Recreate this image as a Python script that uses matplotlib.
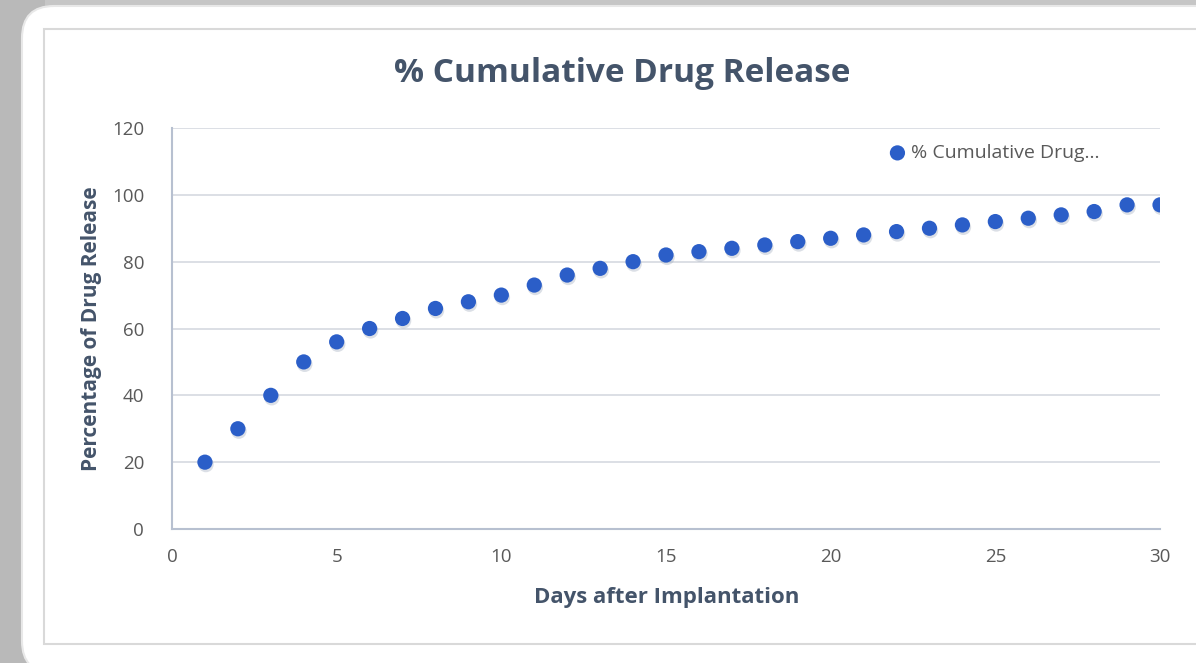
import matplotlib
matplotlib.use("Agg")
import matplotlib.pyplot as plt
from matplotlib.patches import FancyBboxPatch, Rectangle
import numpy as np

days = list(range(1, 31))
release = [20, 30, 40, 50, 56, 60, 63, 66, 68, 70, 73, 76, 78, 80, 82, 83, 84, 85,
           86, 87, 88, 89, 90, 91, 92, 93, 94, 95, 97, 97]
x_ticks = [0, 5, 10, 15, 20, 25, 30]
y_ticks = [0, 20, 40, 60, 80, 100, 120]
title = "% Cumulative Drug Release"
xlabel = "Days after Implantation"
ylabel = "Percentage of Drug Release"
legend_label = "% Cumulative Drug..."

W, H = 1196, 663
fig = plt.figure(figsize=(W / 100, H / 100), dpi=100)
fig.patch.set_facecolor("#c2c2c2")

bg = fig.add_axes([0, 0, 1, 1])
bg.set_xlim(0, W); bg.set_ylim(H, 0); bg.axis("off")
bg.add_patch(Rectangle((0, 0), W, H, facecolor="#c6c6c6", edgecolor="none"))
bg.add_patch(Rectangle((0, 0), 45, H, facecolor="#b9b9b9", edgecolor="none"))
bg.add_patch(FancyBboxPatch((22, 6), W + 60, H + 4,
                            boxstyle="round,pad=0,rounding_size=32",
                            facecolor="white", edgecolor="#e8e8e8", lw=1.5))
bg.add_patch(Rectangle((44, 29), W, 615, facecolor="white", edgecolor="#d9d9d9", lw=1.5))

font = "Open Sans"
ax = fig.add_axes([172 / W, 1 - 529 / H, (1160 - 172) / W, (529 - 128) / H])
ax.set_xlim(0, 30)
ax.set_ylim(0, 120)
ax.set_facecolor("none")

ax.scatter(np.array(days) + 0.03, np.array(release) - 0.7, s=125, color="#9aa6b8",
           alpha=0.35, edgecolors="none", zorder=2)
ax.scatter(days, release, s=120, color="#2b5ec8", edgecolors="none", zorder=3,
           label=legend_label)

ax.set_xticks(x_ticks)
ax.set_yticks(y_ticks)
ax.grid(axis="y", color="#d9dce3", lw=1.3)
ax.set_axisbelow(True)
for s in ["top", "right"]:
    ax.spines[s].set_visible(False)
for s in ["left", "bottom"]:
    ax.spines[s].set_color("#b7c0d0")
    ax.spines[s].set_linewidth(1.5)
ax.tick_params(length=0, labelsize=13.5, labelcolor="#595959")
ax.tick_params(axis="y", pad=20)
ax.tick_params(axis="x", pad=14)
for lab in ax.get_xticklabels() + ax.get_yticklabels():
    lab.set_fontfamily(font)

fig.text(622 / W, 1 - 73 / H, title, ha="center", va="center", fontsize=24,
         fontweight="bold", color="#44546a", fontfamily=font)
fig.text(667 / W, 1 - 597 / H, xlabel, ha="center", va="center", fontsize=16,
         fontweight="bold", color="#44546a", fontfamily=font)
fig.text(92 / W, 1 - 329 / H, ylabel, ha="center", va="center", rotation=90,
         fontsize=15, fontweight="bold", color="#44546a", fontfamily=font)

leg = ax.legend(loc="upper left", bbox_to_anchor=((878 - 172) / (1160 - 172), 1 - (144 - 128) / (529 - 128)),
                frameon=False, handletextpad=-0.3, borderaxespad=0, borderpad=0,
                prop={"family": font, "size": 14}, markerscale=1.0)
for t in leg.get_texts():
    t.set_color("#595959")

fig.savefig("out.png", dpi=100, facecolor=fig.get_facecolor())
